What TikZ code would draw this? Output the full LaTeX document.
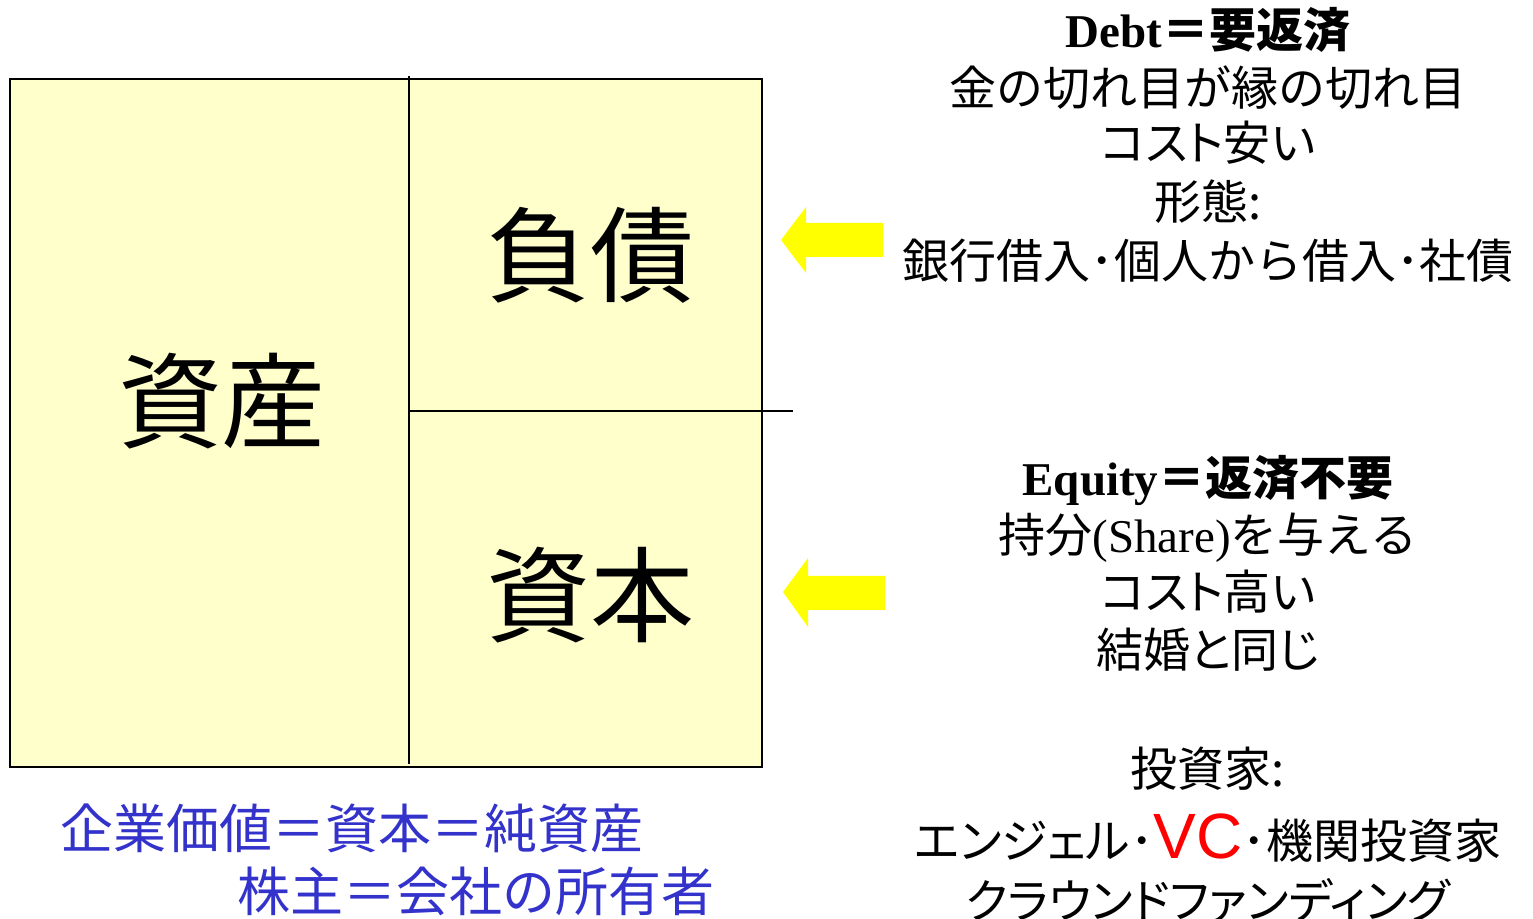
\documentclass[tikz,border=0pt]{standalone}
\usepackage{fontspec}
\setmainfont{Liberation Serif}
\newfontfamily\jp{Noto Sans CJK JP}
\newfontfamily\jpp[RawFeature=+palt]{Noto Sans CJK JP}
\newfontfamily\arial{Liberation Sans}
\definecolor{boxfill}{HTML}{FFFFCC}
\definecolor{arrowyellow}{HTML}{FFFF00}
\definecolor{textblue}{HTML}{3333CC}
\definecolor{vcred}{HTML}{FF0000}
\begin{document}
\begin{tikzpicture}[x=0.5pt,y=-0.5pt,
  bigtxt/.style={inner sep=0pt,font=\jp\fontsize{52pt}{60pt}\selectfont},
  rtxt/.style={inner sep=0pt,anchor=base,font=\jp\fontsize{23.5pt}{28pt}\selectfont},
  ptxt/.style={inner sep=0pt,anchor=base,font=\jpp\fontsize{23.5pt}{28pt}\selectfont},
  btxt/.style={inner sep=0pt,anchor=base west,text=textblue,font=\jp\fontsize{26.5pt}{32pt}\selectfont},
  boxline/.style={line width=1pt,black},
  yarrow/.style={fill=arrowyellow,draw=none}]
\useasboundingbox (0,0) rectangle (1533,919);
% balance sheet
\filldraw[boxline,fill=boxfill] (10,79) rectangle (762,767);
\draw[boxline] (409,76) -- (409,764);
\draw[boxline] (409,411) -- (793,411);
\node[bigtxt] (shisan) at (222,401) {資産};
\node[bigtxt] (fusai) at (590,255) {負債};
\node[bigtxt] (shihon) at (590,595) {資本};
% arrows
\fill[yarrow] (781,240) -- (806,207) -- (806,223) -- (883,223) -- (883,257) -- (806,257) -- (806,273) -- cycle;
\fill[yarrow] (783,592) -- (808,558) -- (808,576) -- (885,576) -- (885,610) -- (808,610) -- (808,627) -- cycle;
% debt text
\node[rtxt] (d1) at (1208,48) {{\rmfamily\bfseries Debt}{\bfseries ＝要返済}};
\node[rtxt] (d2) at (1208,106) {金の切れ目が縁の切れ目};
\node[ptxt] (d3) at (1208,161) {コスト安い};
\node[rtxt] (d4) at (1208,220) {形態:};
\node[rtxt] (d5) at (1208,279) {銀行借入･個人から借入･社債};
% equity text
\node[rtxt] (e1) at (1208,496) {{\rmfamily\bfseries Equity}{\bfseries ＝返済不要}};
\node[rtxt] (e2) at (1208,553) {持分{\rmfamily (Share)}を与える};
\node[ptxt] (e3) at (1208,610) {コスト高い};
\node[ptxt] (e4) at (1208,668) {結婚と同じ};
% investors
\node[rtxt] (i1) at (1208,786) {投資家:};
\node[ptxt] (i2) at (1208,858) {エンジェル･{\arial\fontsize{32pt}{36pt}\selectfont\color{vcred}VC}･機関投資家};
\node[ptxt] (i3) at (1208,918) {クラウンドファンディング};
% blue text
\node[btxt] (b1) at (60,848) {企業価値＝資本＝純資産};
\node[btxt] (b2) at (237,911) {株主＝会社の所有者};
\end{tikzpicture}
\end{document}
